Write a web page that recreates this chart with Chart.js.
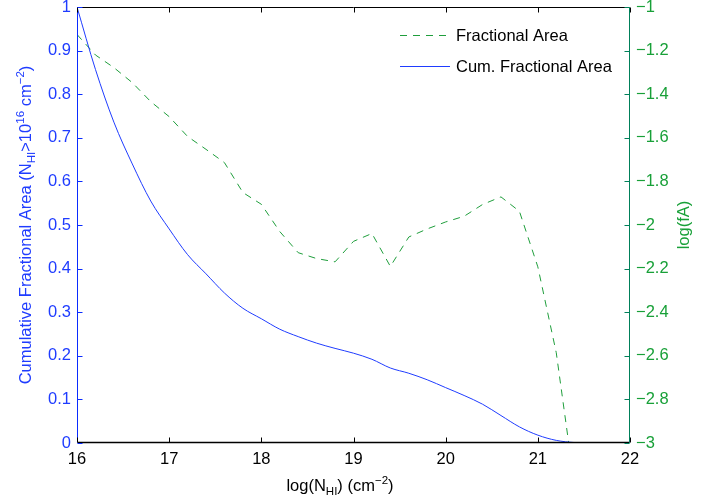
<!DOCTYPE html>
<html>
<head>
<meta charset="utf-8">
<title>Fractional Area</title>
<script src="https://cdn.jsdelivr.net/npm/chart.js@4.4.1/dist/chart.umd.min.js"></script>
<style>
  html, body { margin: 0; padding: 0; background: #fff; }
  canvas { display: block; }
</style>
</head>
<body>
<canvas id="fa_plot" width="718" height="499"></canvas>
<script>
// log N_HI grid (cm^-2)
const nhi = [16.0, 16.2, 16.4, 16.6, 16.8, 17.0, 17.2, 17.4, 17.6, 17.8,
             18.0, 18.2, 18.4, 18.6, 18.8, 19.0, 19.2, 19.4, 19.6, 19.8,
             20.0, 20.2, 20.4, 20.6, 20.8, 21.0, 21.2, 21.4, 21.6, 21.8, 22.0];

// cumulative fractional area above 10^16 (left axis)
const cumArea = [1.000, 0.857, 0.736, 0.640, 0.555, 0.491, 0.432, 0.388, 0.344, 0.309,
                 0.285, 0.261, 0.244, 0.229, 0.217, 0.206, 0.192, 0.172, 0.160, 0.145,
                 0.127, 0.109, 0.089, 0.063, 0.037, 0.018, 0.006, 0.001, 0.000, 0.000, 0.000];

// log of the fractional area per bin (right axis), empty past 21.4
const logFA = [-1.126, -1.220, -1.278, -1.347, -1.434, -1.503, -1.594, -1.653, -1.714, -1.851,
               -1.905, -2.030, -2.127, -2.154, -2.169, -2.075, -2.039, -2.190, -2.055, -2.018,
               -1.986, -1.960, -1.906, -1.871, -1.937, -2.192, -2.586, -3.200, null, null, null];

const xTicks = [16, 17, 18, 19, 20, 21, 22];
const leftTicks = [0, 0.1, 0.2, 0.3, 0.4, 0.5, 0.6, 0.7, 0.8, 0.9, 1];
const rightTicks = [-3, -2.8, -2.6, -2.4, -2.2, -2, -1.8, -1.6, -1.4, -1.2, -1];

const BLUE = '#1f3cff';
const BLUE_AX = '#0a2cff';
const GREEN = '#1f9e3c';
const GREEN_TXT = '#18a038';
const GREEN_AX = '#00805a';
const FONT = '"Liberation Sans", Arial, Helvetica, sans-serif';
const FS = 16.5;

function pts(ys) {
  return nhi.map(function(x, i) { return { x: x, y: ys[i] }; });
}

function fixTicks(list) {
  return function(scale) { scale.ticks = list.map(function(v) { return { value: v }; }); };
}

// draws text with TeX-like sub/superscripts, centred on (x, y)
function richText(ctx, parts, x, y) {
  const small = FS * 0.7;
  let total = 0;
  parts.forEach(function(p) {
    ctx.font = (p.k ? small : FS) + 'px ' + FONT;
    p.w = ctx.measureText(p.t).width;
    total += p.w;
  });
  let cx = x - total / 2;
  ctx.textAlign = 'left';
  ctx.textBaseline = 'alphabetic';
  parts.forEach(function(p) {
    ctx.font = (p.k ? small : FS) + 'px ' + FONT;
    let dy = 0;
    if (p.k === 'sup') dy = -7;
    if (p.k === 'sub') dy = 4;
    ctx.fillText(p.t, cx, y + dy);
    cx += p.w;
  });
}

function seg(ctx, x1, y1, x2, y2, color, w) {
  ctx.strokeStyle = color;
  ctx.lineWidth = w || 1;
  ctx.setLineDash([]);
  ctx.beginPath();
  ctx.moveTo(x1, y1);
  ctx.lineTo(x2, y2);
  ctx.stroke();
}

const frame = {
  id: 'frame',
  afterDraw(chart) {
    const ctx = chart.ctx;
    const a = chart.chartArea;
    const sx = chart.scales.x, sy = chart.scales.y, sy2 = chart.scales.y2;
    const L = Math.round(a.left) + 0.5, R = Math.round(a.right) - 0.5;
    const T = Math.round(a.top) + 0.5, B = Math.round(a.bottom) - 0.5;
    const tick = 5;
    ctx.save();

    // box
    seg(ctx, L, T, R, T, '#000');
    seg(ctx, L, B, R, B, '#000', 1.5);
    seg(ctx, L, T, L, B, BLUE_AX);
    seg(ctx, R, T, R, B, GREEN_AX);

    // inward tick marks
    xTicks.forEach(function(v) {
      const px = Math.round(sx.getPixelForValue(v)) + 0.5;
      seg(ctx, px, B, px, B - tick, '#000');
      seg(ctx, px, T, px, T + tick, '#000');
    });
    leftTicks.forEach(function(v) {
      const py = Math.round(sy.getPixelForValue(v)) + 0.5;
      seg(ctx, L, py, L + tick, py, BLUE_AX);
    });
    rightTicks.forEach(function(v) {
      const py = Math.round(sy2.getPixelForValue(v)) + 0.5;
      seg(ctx, R, py, R - tick, py, GREEN_AX);
    });

    // x title
    ctx.fillStyle = '#000';
    richText(ctx, [
      { t: 'log(N' }, { t: 'HI', k: 'sub' }, { t: ') (cm' }, { t: '\u22122', k: 'sup' }, { t: ')' }
    ], 340, 491);

    // left title
    const midY = (a.top + a.bottom) / 2;
    ctx.save();
    ctx.translate(31, midY);
    ctx.rotate(-Math.PI / 2);
    ctx.fillStyle = BLUE;
    richText(ctx, [
      { t: 'Cumulative Fractional Area (N' }, { t: 'HI', k: 'sub' }, { t: '>10' },
      { t: '16', k: 'sup' }, { t: ' cm' }, { t: '\u22122', k: 'sup' }, { t: ')' }
    ], 0, 0);
    ctx.restore();

    // right title
    ctx.save();
    ctx.translate(689, midY);
    ctx.rotate(-Math.PI / 2);
    ctx.fillStyle = GREEN_TXT;
    richText(ctx, [{ t: 'log(fA)' }], 0, 0);
    ctx.restore();

    // legend
    ctx.strokeStyle = GREEN;
    ctx.lineWidth = 1;
    ctx.setLineDash([7, 6]);
    ctx.beginPath();
    ctx.moveTo(400, 35.5);
    ctx.lineTo(450, 35.5);
    ctx.stroke();
    ctx.setLineDash([]);
    seg(ctx, 400, 66.5, 450, 66.5, BLUE);
    ctx.fillStyle = '#000';
    ctx.font = FS + 'px ' + FONT;
    ctx.textAlign = 'left';
    ctx.textBaseline = 'middle';
    ctx.fillText('Fractional Area', 456, 36);
    ctx.fillText('Cum. Fractional Area', 456, 67);

    ctx.restore();
  }
};

const tickFont = { family: FONT, size: FS };

new Chart(document.getElementById('fa_plot'), {
  type: 'line',
  data: {
    datasets: [
      {
        label: 'Cum. Fractional Area',
        data: pts(cumArea),
        yAxisID: 'y',
        borderColor: BLUE,
        borderWidth: 1,
        pointRadius: 0,
        cubicInterpolationMode: 'monotone',
        fill: false
      },
      {
        label: 'Fractional Area',
        data: pts(logFA),
        yAxisID: 'y2',
        borderColor: GREEN,
        borderWidth: 1,
        borderDash: [7, 6],
        pointRadius: 0,
        tension: 0,
        fill: false
      }
    ]
  },
  options: {
    responsive: false,
    animation: false,
    layout: { padding: { top: 7, left: 0, right: 0, bottom: 0 } },
    plugins: { legend: { display: false }, tooltip: { enabled: false } },
    scales: {
      x: {
        type: 'linear',
        min: 16, max: 22,
        position: 'bottom',
        grid: { display: false, drawTicks: false },
        border: { display: false },
        afterBuildTicks: fixTicks(xTicks),
        ticks: { color: '#000', font: tickFont, padding: 7, maxRotation: 0 },
        afterFit: function(s) { s.height = 56; s.paddingLeft = 0; s.paddingRight = 0; }
      },
      y: {
        type: 'linear',
        min: 0, max: 1,
        position: 'left',
        grid: { display: false, drawTicks: false },
        border: { display: false },
        afterBuildTicks: fixTicks(leftTicks),
        ticks: {
          color: BLUE, font: tickFont, padding: 6,
          callback: function(v) { return String(+v.toFixed(1)); }
        },
        afterFit: function(s) { s.width = 77; s.paddingTop = 0; s.paddingBottom = 0; }
      },
      y2: {
        type: 'linear',
        min: -3, max: -1,
        position: 'right',
        grid: { display: false, drawTicks: false },
        border: { display: false },
        afterBuildTicks: fixTicks(rightTicks),
        ticks: {
          color: GREEN_TXT, font: tickFont, padding: 6,
          callback: function(v) { return '\u2212' + String(+Math.abs(v).toFixed(1)); }
        },
        afterFit: function(s) { s.width = 88; s.paddingTop = 0; s.paddingBottom = 0; }
      }
    }
  },
  plugins: [frame]
});
</script>
</body>
</html>
